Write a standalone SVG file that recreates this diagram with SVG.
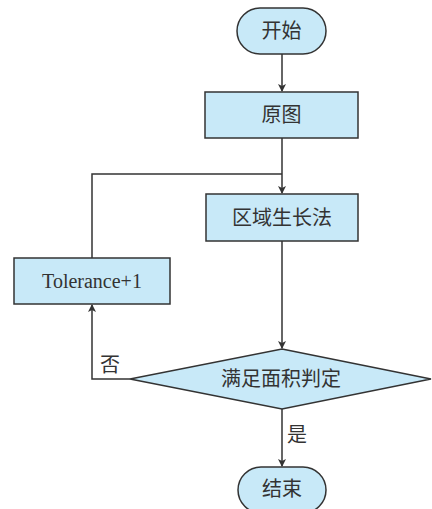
<svg xmlns="http://www.w3.org/2000/svg" width="432" height="509" viewBox="0 0 432 509">
<defs>
<style>
.n{fill:#c8e9f8;stroke:#333;stroke-width:1.5}
.t{font-family:"Liberation Serif","Noto Sans CJK SC",serif;font-size:20px;fill:#333;text-anchor:middle}
.c{fill:none;stroke:#333;stroke-width:1.5}
</style>
<marker id="a" markerWidth="8" markerHeight="10" refX="7" refY="5" orient="auto" markerUnits="userSpaceOnUse">
<path d="M0,1 L8,5 L0,9 L2,5 Z" fill="#333"/>
</marker>
</defs>
<rect width="432" height="509" fill="#fff"/>
<g id="connectors">
<line class="c" x1="282" y1="54" x2="282" y2="91" marker-end="url(#a)"/>
<line class="c" x1="282" y1="138" x2="282" y2="193" marker-end="url(#a)"/>
<polyline class="c" points="92,258 92,174 282,174"/>
<line class="c" x1="282" y1="241" x2="282" y2="348" marker-end="url(#a)"/>
<polyline class="c" points="130,379 92,379 92,305" marker-end="url(#a)"/>
<line class="c" x1="282" y1="409" x2="282" y2="466" marker-end="url(#a)"/>
<text class="t" x="110" y="372">否</text>
<text class="t" x="297" y="442">是</text>
</g>
<g id="start">
<rect class="n" x="237" y="8" width="89" height="46" rx="23"/>
<text class="t" x="281.5" y="38">开始</text>
</g>
<g id="orig">
<rect class="n" x="205" y="92" width="153" height="46"/>
<text class="t" x="281.5" y="122">原图</text>
</g>
<g id="grow">
<rect class="n" x="206" y="194" width="152" height="47"/>
<text class="t" x="282" y="225">区域生长法</text>
</g>
<g id="tol">
<rect class="n" x="14" y="258" width="156" height="46"/>
<text class="t" x="92" y="288">Tolerance+1</text>
</g>
<g id="decide">
<polygon class="n" points="282,349 431,379 282,409 130,379"/>
<text class="t" x="281" y="386">满足面积判定</text>
</g>
<g id="end">
<rect class="n" x="238" y="467" width="88" height="46" rx="23"/>
<text class="t" x="282" y="496">结束</text>
</g>
</svg>
